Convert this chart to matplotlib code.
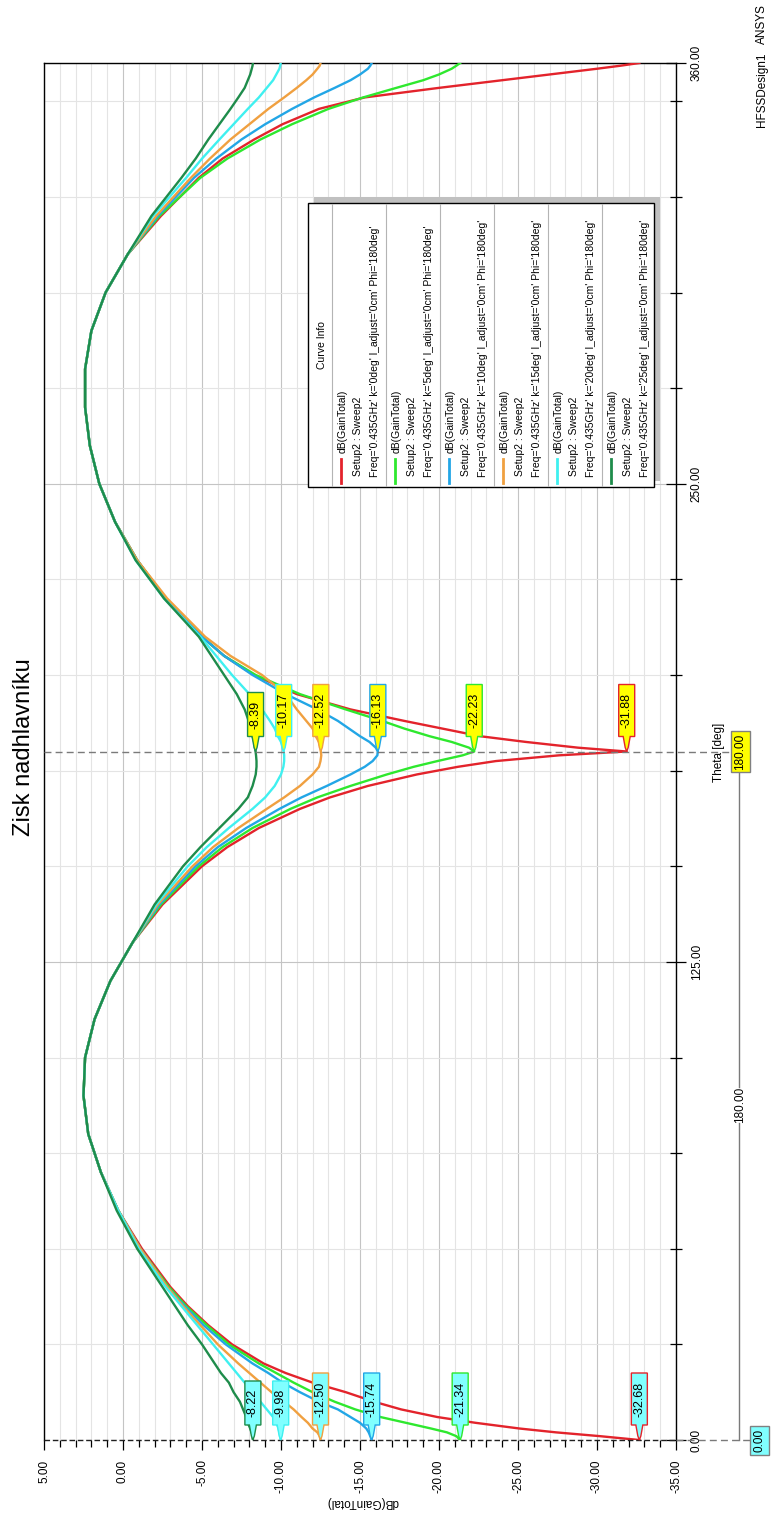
import matplotlib
matplotlib.use('Agg')
import matplotlib.pyplot as plt
from matplotlib.patches import Polygon, Rectangle
from matplotlib.lines import Line2D
from matplotlib.transforms import IdentityTransform
import numpy as np

plt.rcParams['font.family'] = ['Liberation Sans', 'DejaVu Sans']

# ---------------- data ----------------
theta_deg = [0, 1, 2, 3, 4.5, 6, 8, 10, 12.5, 15,
             17.5, 20, 25, 30, 35, 40, 50, 60, 70, 80,
             90, 100, 110, 120, 130, 140, 150, 155, 160, 165,
             168, 171, 174, 176, 177.5, 179, 180, 181, 182.5, 184,
             186, 188, 191, 195, 200, 205, 210, 220, 230, 240,
             250, 260, 270, 280, 290, 300, 310, 320, 330, 335,
             340, 344, 348, 351, 353.5, 355.5, 357, 358.5, 359.3, 360]

gain_k0 = [-32.68, -30.2, -27.4, -25.1, -22.3, -19.9, -17.6, -15.9, -14.1, -12.0,
           -10.3, -8.9, -6.9, -5.4, -4.1, -3.0, -1.2, 0.3, 1.4, 2.2,
           2.5, 2.4, 1.8, 0.8, -0.6, -2.5, -5.0, -6.6, -8.6, -11.2,
           -13.1, -15.5, -18.6, -21.2, -23.6, -27.6, -31.88, -28.8, -25.5, -22.6,
           -20.2, -17.8, -14.4, -11.0, -8.3, -6.4, -5.0, -2.7, -0.9, 0.5,
           1.5, 2.1, 2.4, 2.4, 2.0, 1.1, -0.3, -2.4, -4.8, -6.3,
           -8.3, -10.1, -12.4, -15.3, -20.0, -24.0, -27.0, -30.0, -31.5, -32.68]

gain_k5 = [-21.34, -21.1, -20.5, -19.5, -17.9, -16.3, -14.7, -13.4, -12.0, -10.8,
           -9.7, -8.6, -6.7, -5.3, -4.0, -2.9, -1.1, 0.3, 1.4, 2.2,
           2.5, 2.4, 1.8, 0.8, -0.6, -2.4, -4.8, -6.3, -8.2, -10.6,
           -12.3, -14.4, -16.7, -18.4, -19.9, -21.5, -22.23, -21.9, -20.8, -19.4,
           -17.8, -16.4, -14.1, -11.2, -8.4, -6.4, -5.0, -2.7, -0.9, 0.5,
           1.5, 2.1, 2.4, 2.4, 2.0, 1.1, -0.3, -2.3, -4.9, -6.6,
           -8.7, -10.7, -13.0, -15.2, -17.3, -19.0, -20.0, -20.8, -21.1, -21.34]

gain_k10 = [-15.74, -15.65, -15.55, -15.4, -15.0, -14.4, -13.6, -12.4, -11.2, -10.1,
            -9.2, -8.2, -6.5, -5.1, -3.9, -2.8, -1.1, 0.3, 1.4, 2.2,
            2.5, 2.4, 1.8, 0.8, -0.6, -2.3, -4.6, -6.0, -7.8, -9.9,
            -11.3, -12.9, -14.4, -15.3, -15.8, -16.1, -16.13, -16.0, -15.6, -15.0,
            -14.3, -13.6, -12.3, -10.3, -8.2, -6.4, -5.0, -2.7, -0.9, 0.5,
            1.5, 2.1, 2.4, 2.4, 2.0, 1.1, -0.3, -2.2, -4.5, -5.9,
            -7.5, -9.0, -10.7, -12.1, -13.4, -14.4, -15.0, -15.5, -15.65, -15.74]

gain_k15 = [-12.50, -12.45, -12.3, -12.0, -11.7, -11.3, -10.8, -10.2, -9.4, -8.7,
            -8.0, -7.3, -6.0, -4.9, -3.8, -2.8, -1.1, 0.3, 1.4, 2.2,
            2.5, 2.4, 1.8, 0.8, -0.6, -2.2, -4.4, -5.7, -7.3, -9.1,
            -10.2, -11.2, -12.0, -12.4, -12.5, -12.55, -12.52, -12.5, -12.4, -12.2,
            -12.0, -11.6, -11.0, -10.3, -8.8, -6.8, -5.2, -2.8, -0.9, 0.5,
            1.5, 2.1, 2.4, 2.4, 2.0, 1.1, -0.3, -2.1, -4.3, -5.5,
            -6.8, -8.0, -9.2, -10.2, -11.0, -11.6, -12.0, -12.3, -12.45, -12.50]

gain_k20 = [-9.98, -9.95, -9.9, -9.85, -9.7, -9.5, -9.1, -8.7, -8.2, -7.7,
            -7.2, -6.7, -5.7, -4.7, -3.7, -2.7, -1.0, 0.3, 1.4, 2.2,
            2.5, 2.4, 1.8, 0.8, -0.6, -2.1, -4.1, -5.3, -6.7, -8.2,
            -9.0, -9.6, -10.0, -10.15, -10.2, -10.2, -10.17, -10.1, -10.0, -9.8,
            -9.6, -9.3, -8.8, -8.0, -6.9, -5.9, -4.9, -2.6, -0.8, 0.5,
            1.5, 2.1, 2.4, 2.4, 2.0, 1.1, -0.3, -1.9, -4.0, -5.0,
            -6.1, -7.0, -7.9, -8.6, -9.1, -9.5, -9.7, -9.9, -9.95, -9.98]

gain_k25 = [-8.22, -8.2, -8.15, -8.05, -7.9, -7.8, -7.6, -7.4, -7.0, -6.7,
            -6.2, -5.8, -5.0, -4.1, -3.3, -2.5, -0.9, 0.4, 1.4, 2.2,
            2.5, 2.4, 1.8, 0.8, -0.6, -2.0, -3.8, -4.9, -6.1, -7.3,
            -7.9, -8.2, -8.4, -8.45, -8.45, -8.42, -8.39, -8.35, -8.3, -8.2,
            -8.1, -7.95, -7.7, -7.2, -6.4, -5.6, -4.8, -2.6, -0.8, 0.5,
            1.5, 2.1, 2.4, 2.4, 2.0, 1.1, -0.3, -1.8, -3.7, -4.6,
            -5.4, -6.1, -6.8, -7.3, -7.7, -7.9, -8.05, -8.15, -8.2, -8.22]

k_labels = ['0deg', '5deg', '10deg', '15deg', '20deg', '25deg']
curve_colors = ['#e3232b', '#2ee82e', '#22a6e6', '#f0a040', '#3ff0f0', '#1e8c4b']

marker_thetas = [0, 180]
m1_values = [-32.68, -21.34, -15.74, -12.50, -9.98, -8.22]   # theta = 0
m2_values = [-31.88, -22.23, -16.13, -12.52, -10.17, -8.39]  # theta = 180

x_ticks = [5, 0, -5, -10, -15, -20, -25, -30, -35]
y_ticks = [0, 125, 250, 360]

# ---------------- figure ----------------
W, H, DPI = 771, 1513, 100
fig = plt.figure(figsize=(W / DPI, H / DPI), dpi=DPI)
PL, PR, PT, PB = 44, 676, 63, 1440
ax = fig.add_axes([PL / W, 1 - PB / H, (PR - PL) / W, (PB - PT) / H])
ID = IdentityTransform()


def P(x, y):
    return (x, H - y)


ax.set_xlim(5, -35)
ax.set_ylim(0, 360)

series = [gain_k0, gain_k5, gain_k10, gain_k15, gain_k20, gain_k25]
for g, c in zip(series, curve_colors):
    ax.plot(g, theta_deg, color=c, lw=1.7, zorder=3, solid_joinstyle='round')

ax.set_xticks(x_ticks)
ax.set_xticks(np.arange(-35, 6, 1), minor=True)
ax.set_yticks(y_ticks)
ax.set_yticks(np.arange(0, 361, 25), minor=True)
ax.grid(which='minor', color='#e4e4e4', lw=0.8)
ax.grid(which='major', color='#c4c4c4', lw=0.8)
ax.set_axisbelow(True)

ax.set_xticklabels([f'{v:.2f}' for v in x_ticks], rotation=90, fontsize=8.5)
ax.tick_params(axis='x', which='major', direction='out', length=7, pad=7, width=0.9)
ax.tick_params(axis='x', which='minor', direction='out', length=5, width=0.9)
ax.yaxis.tick_right()
ax.set_yticklabels([f'{v:.2f}' for v in y_ticks], rotation=90, fontsize=8.5, va='center')
ax.tick_params(axis='y', which='major', direction='inout', length=15, pad=3, width=0.9)
ax.tick_params(axis='y', which='minor', direction='inout', length=9, width=0.9)
for s in ax.spines.values():
    s.set_linewidth(1.0)
    s.set_color('black')
ax.spines['bottom'].set_visible(False)

# marker lines (dashed)
y180 = ax.transData.transform((0, 180))[1]
y0 = ax.transData.transform((0, 0))[1]
fig.add_artist(Line2D([PL, 731], [y180, y180], transform=ID, color='#7a7a7a',
                      lw=1.0, ls=(0, (5, 3)), zorder=4))
fig.add_artist(Line2D([PL, PR], [y0, y0], transform=ID, color='#202020',
                      lw=1.0, ls=(0, (4, 2)), zorder=4))
fig.add_artist(Line2D([PR, 750], [y0, y0], transform=ID, color='#7a7a7a',
                      lw=1.0, ls=(0, (5, 3)), zorder=4))


def marker_box(val, th, color, face):
    cx, ty = ax.transData.transform((val, th))
    s = f'{val:.2f}'
    h = 52 if len(s) > 5 else 44
    bot = ty + 15
    pts = [(cx - 8, bot), (cx - 8, bot + h), (cx + 8, bot + h), (cx + 8, bot),
           (cx + 3.5, bot), (cx + 1.5, ty + 4), (cx, ty), (cx - 1.5, ty + 4), (cx - 3.5, bot)]
    fig.add_artist(Polygon(pts, closed=True, transform=ID, facecolor=face,
                           edgecolor=color, lw=1.0, zorder=6))
    fig.text(cx, bot + h / 2, s, transform=ID, rotation=90, ha='center',
             va='center', fontsize=9, zorder=7)


for v, c in zip(m1_values, curve_colors):
    marker_box(v, marker_thetas[0], c, '#80ffff')
for v, c in zip(m2_values, curve_colors):
    marker_box(v, marker_thetas[1], c, '#ffff00')

# delta line between markers
fig.add_artist(Line2D([739, 739], [H - 772, H - 1087], transform=ID, color='#7a7a7a', lw=1.0))
fig.add_artist(Line2D([739, 739], [H - 1123, y0], transform=ID, color='#7a7a7a', lw=1.0))
fig.text(*P(740, 1105), f'{marker_thetas[1] - marker_thetas[0]:.2f}', transform=ID,
         rotation=90, ha='center', va='center', fontsize=8.5)

# marker x boxes
fig.add_artist(Rectangle(P(731, 772), 19, 41, transform=ID, facecolor='#ffff00',
                         edgecolor='#808080', lw=1.0, zorder=6))
fig.text(*P(740.5, 752), f'{marker_thetas[1]:.2f}', transform=ID, rotation=90,
         ha='center', va='center', fontsize=8.5, zorder=7)
fig.add_artist(Rectangle(P(750, 1455), 19, 29, transform=ID, facecolor='#80ffff',
                         edgecolor='#808080', lw=1.0, zorder=6))
fig.text(*P(759.5, 1440), f'{marker_thetas[0]:.2f}', transform=ID, rotation=90,
         ha='center', va='center', fontsize=8.5, zorder=7)

# axis labels, title
fig.text(*P(719, 752), 'Theta [deg]', transform=ID, rotation=90, ha='center',
         va='center', fontsize=8.5)
fig.text(*P(362, 1502), 'dB(GainTotal)', transform=ID, rotation=180, ha='center',
         va='center', fontsize=8.5)
fig.text(*P(24, 747), 'Zisk nadhlavníku', transform=ID, rotation=90, ha='center',
         va='center', fontsize=17)
fig.text(*P(762, 90), 'HFSSDesign1', transform=ID, rotation=90, ha='center',
         va='center', fontsize=8.5)
fig.text(*P(762, 24), 'ANSYS', transform=ID, rotation=90, ha='center',
         va='center', fontsize=8.5)

# legend (Curve Info)
fig.add_artist(Rectangle(P(314, 481), 346, 284, transform=ID, facecolor='#c0c0c0',
                         edgecolor='none', zorder=8))
fig.add_artist(Rectangle(P(308, 487), 346, 284, transform=ID, facecolor='white',
                         edgecolor='black', lw=1.0, zorder=9))
fig.text(*P(322, 345), 'Curve Info', transform=ID, rotation=90, ha='center',
         va='center', fontsize=7.5, zorder=10)
for i, (k, c) in enumerate(zip(k_labels, curve_colors)):
    x0 = 332 + 54 * i
    fig.add_artist(Line2D([x0, x0], [H - 204, H - 486], transform=ID, color='#b4b4b4',
                          lw=0.8, zorder=10))
    fig.add_artist(Line2D([x0 + 9, x0 + 9], [H - 459, H - 483], transform=ID, color=c,
                          lw=2.0, zorder=10))
    fig.text(*P(x0 + 11, 453), 'dB(GainTotal)', transform=ID, rotation=90,
             ha='center', va='bottom', fontsize=7.5, zorder=10)
    fig.text(*P(x0 + 26, 476), 'Setup2 : Sweep2', transform=ID, rotation=90,
             ha='center', va='bottom', fontsize=7.5, zorder=10)
    fig.text(*P(x0 + 43, 477), f"Freq='0.435GHz' k='{k}' l_adjust='0cm' Phi='180deg'",
             transform=ID, rotation=90, ha='center', va='bottom', fontsize=7.5, zorder=10)

fig.savefig('out.png', dpi=DPI)
